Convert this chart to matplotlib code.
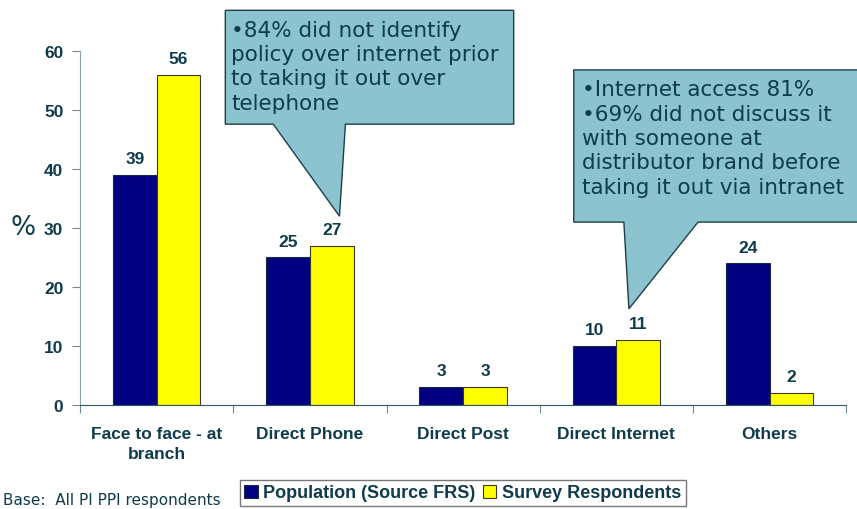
import numpy as np
import matplotlib.pyplot as plt
from matplotlib.patches import Polygon

categories = ["Face to face - at\nbranch", "Direct Phone", "Direct Post",
              "Direct Internet", "Others"]
population = [39, 25, 3, 10, 24]
respondents = [56, 27, 3, 11, 2]

note_phone = ("\u202284% did not identify\npolicy over internet prior\n"
              "to taking it out over\ntelephone")
note_internet = ("\u2022Internet access 81%\n\u202269% did not discuss it\n"
                 "with someone at\ndistributor brand before\n"
                 "taking it out via intranet")

ink = "#0f3b4c"
navy = "#000080"
yellow = "#ffff00"
bubble = "#8bc3cf"

plt.rcParams["font.family"] = ["Liberation Sans", "DejaVu Sans"]

fig = plt.figure(figsize=(8.57, 5.10), dpi=100)
ax = fig.add_axes([0.0934, 0.204, 0.894, 0.694])

x = np.arange(len(categories))
w = 0.285
b1 = ax.bar(x - w / 2, population, w, color=navy, edgecolor="#1a2a40",
            linewidth=0.8, label="Population (Source FRS)")
b2 = ax.bar(x + w / 2, respondents, w, color=yellow, edgecolor="#3a3a20",
            linewidth=0.8, label="Survey Respondents")

for bars, vals in ((b1, population), (b2, respondents)):
    for r, v in zip(bars, vals):
        ax.text(r.get_x() + r.get_width() / 2, v + 1.5, str(v), ha="center",
                va="bottom", fontsize=12.5, fontweight="bold", color=ink)

ax.set_xlim(-0.5, len(categories) - 0.5)
ax.set_ylim(0, 60)
ax.set_yticks(range(0, 61, 10))
ax.set_yticklabels([str(t) for t in range(0, 61, 10)], fontsize=12.5,
                   fontweight="bold", color=ink)
ax.set_xticks(np.arange(len(categories) + 1) - 0.5)
ax.set_xticklabels([])
ax.set_xticks(x, minor=True)
ax.set_xticklabels(categories, minor=True, fontsize=12.5, fontweight="bold",
                   color=ink, linespacing=1.45)
ax.tick_params(axis="x", which="minor", length=0, pad=15)
ax.tick_params(axis="x", which="major", length=6, color="#6f8a96")
ax.tick_params(axis="y", length=6, color="#6f8a96", pad=6)
for s in ("top", "right"):
    ax.spines[s].set_visible(False)
ax.spines["left"].set_color("#8aa0aa")
ax.spines["bottom"].set_color("#2f5664")
ax.set_ylabel("%", rotation=0, fontsize=19, color=ink, family="DejaVu Sans",
              va="center", ha="center")
ax.yaxis.set_label_coords(-0.075, 0.503)

# speech bubbles
def callout(box, base, tip, text, tx, ty):
    x0, x1, y0, y1 = box
    pts = [(x0, y0), (base[0], y0), tip, (base[1], y0), (x1, y0),
           (x1, y1), (x0, y1)]
    ax.add_patch(Polygon(pts, closed=True, facecolor=bubble,
                         edgecolor="#1d3f4a", linewidth=1.0, clip_on=False,
                         zorder=5))
    ax.text(tx, ty, text, fontsize=15.5, color=ink, family="DejaVu Sans",
            va="top", ha="left", linespacing=1.27, zorder=6, clip_on=False)

callout((0.448, 2.33, 47.6, 66.9), (0.761, 1.232), (1.193, 32.0),
        note_phone, 0.485, 65.3)
callout((2.722, 4.65, 31.0, 56.8), (3.049, 3.533), (3.082, 16.3),
        note_internet, 2.775, 55.2)

fig.legend(loc="upper center", bbox_to_anchor=(0.54, 0.057), ncol=2,
           frameon=True, fancybox=False, edgecolor="#555555",
           prop={"weight": "bold", "size": 13}, handlelength=0.75,
           handleheight=0.75, handletextpad=0.3, columnspacing=0.4,
           borderpad=0.25, borderaxespad=0, labelcolor=ink)

fig.text(0.003, 0.004, "Base:  All PI PPI respondents", fontsize=11,
         color=ink, family="DejaVu Sans", va="bottom", zorder=0)

fig.savefig("out.png", dpi=100)
